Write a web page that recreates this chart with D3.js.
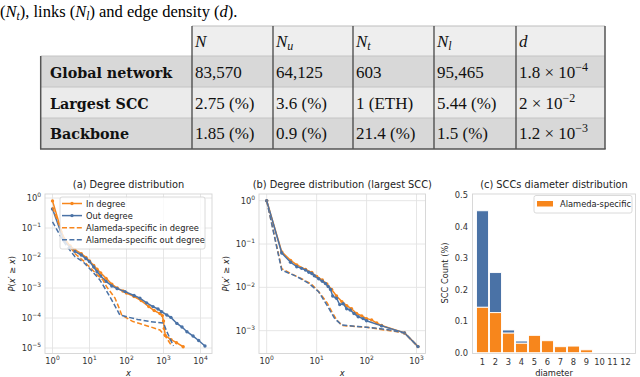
<!DOCTYPE html>
<html lang="en">
<head>
<meta charset="UTF-8">
<title>Network statistics</title>
<script src="https://d3js.org/d3.v7.min.js"></script>
<style>
    body { margin: 0; background: #ffffff; }
    svg { display: block; }
</style>
</head>
<body>
<svg width="640" height="377"></svg>
<script>
// ---- table data ----
const colHeads = [["N", ""], ["N", "u"], ["N", "t"], ["N", "l"], ["d", ""]];
const rowLabels = ["Global network", "Largest SCC", "Backbone"];
const rowGlobal = ["83,570", "64,125", "603", "95,465", ["1.8 × 10", "−4"]];
const rowSCC = ["2.75 (%)", "3.6 (%)", "1 (ETH)", "5.44 (%)", ["2 × 10", "−2"]];
const rowBackbone = ["1.85 (%)", "0.9 (%)", "21.4 (%)", "1.5 (%)", ["1.2 × 10", "−3"]];

// ---- (a) degree distribution, [degree, P(x' >= x)] ----
const inDegree = [[1,0.8],[2,0.045],[3,0.025],[4,0.019],[6,0.014],[8,0.0105],[10,0.0079],[13,0.0056],[16,0.0042],[20,0.0032],[28,0.0021],[40,0.00135],[56,0.001],[80,0.00079],[100,0.00068],[160,0.00052],[250,0.00038],[400,0.00024],[560,0.000178],[800,0.000141],[930,0.00012],[1000,0.000079],[1050,0.000045],[1120,0.000026],[1600,0.000019],[2240,0.000015],[3400,0.000011]];
const outDegree = [[1,0.43],[2,0.04],[3,0.0224],[4,0.0166],[6,0.0126],[8,0.0095],[10,0.0076],[13,0.005],[16,0.0035],[20,0.0025],[28,0.00166],[40,0.00117],[56,0.00095],[91,0.00076],[160,0.00056],[230,0.00046],[350,0.00032],[520,0.00024],[710,0.0002],[890,0.000162],[1230,0.000126],[1580,0.000105],[2300,0.000066],[3160,0.00005],[4300,0.000035],[6300,0.000025],[8900,0.0000178],[13200,0.0000117]];
const alamedaIn = [[1,0.5],[2,0.05],[3,0.024],[4,0.0141],[7,0.0079],[10,0.005],[16,0.0028],[23,0.00186],[29,0.0011],[49,0.00046],[66,0.000186],[74,0.000126],[150,0.000076],[436,0.000051],[800,0.00004],[1120,0.000025],[1660,0.0000117]];
const alamedaOut = [[1,0.16],[2,0.035],[3,0.0178],[4,0.0112],[7,0.0071],[10,0.0045],[19,0.00186],[29,0.00079],[44,0.00032],[66,0.000126],[200,0.000089],[436,0.000076],[1000,0.000068],[1230,0.000035],[1860,0.0000117]];

// ---- (b) largest SCC ----
const sccIn = [[1,1],[2,0.066],[3,0.042],[4,0.033],[6,0.026],[8,0.022],[10,0.0178],[13,0.0148],[16,0.012],[20,0.0089],[25,0.0063],[32,0.0047],[40,0.0038],[50,0.0032],[63,0.0025],[80,0.0022],[100,0.0019],[126,0.00178],[160,0.0015],[200,0.00132],[575,0.00089],[1070,0.00043]];
const sccOut = [[1,1],[2,0.062],[3,0.038],[4,0.03],[5,0.0275],[6,0.025],[7,0.0224],[8,0.0209],[9,0.0185],[11,0.0158],[13,0.0138],[15,0.0123],[17,0.0105],[19,0.0089],[21,0.0063],[25,0.0056],[29,0.004],[34,0.0042],[40,0.0032],[47,0.003],[56,0.0025],[68,0.0021],[85,0.0019],[100,0.0017],[200,0.00129],[575,0.00089],[1070,0.00043]];
const sccAlamedaIn = [[1,1],[2,0.027],[3,0.021],[5,0.0158],[8,0.0117],[11,0.0079],[16,0.0045],[20,0.0028],[25,0.0018],[32,0.00132],[100,0.0012],[575,0.00089],[1070,0.00043]];
const sccAlamedaOut = [[1,1],[2,0.025],[4,0.0178],[7,0.0123],[11,0.0079],[17,0.0035],[23,0.0019],[32,0.00135],[100,0.0012],[250,0.00107],[575,0.00089],[1070,0.00043]];

// ---- (c) SCC diameter ----
const diameters = [1,2,3,4,5,6,7,8,9,10,11,12];
const sccAll = [0.45,0.254,0.072,0.037,0.055,0.038,0.019,0.021,0.009,0,0,0];
const sccAlameda = [0.144,0.127,0.062,0.03,0.055,0.038,0.019,0.021,0.009,0,0,0];

const ORANGE = "#f7861c", BLUE = "#4a72a6";
const SANS = "DejaVu Sans, sans-serif", SERIF = "Liberation Serif, serif";
const svg = d3.select("svg");

// ================= table =================
const colX = [40.7, 192, 273, 353, 434, 516, 605];
const rowY = [26, 56, 87, 118, 149];
const rowFill = ["#eeeeee", "#d8d8d8", "#ebebeb", "#d8d8d8"];

svg.append("text").attr("x", 0).attr("y", 17).attr("font-family", SERIF).attr("font-size", 16.5)
    .call(t => {
        t.append("tspan").text("(");
        t.append("tspan").attr("font-style", "italic").text("N");
        t.append("tspan").attr("font-style", "italic").attr("font-size", 11.5).attr("dy", 3).text("t");
        t.append("tspan").attr("dy", -3).text("), links (");
        t.append("tspan").attr("font-style", "italic").text("N");
        t.append("tspan").attr("font-style", "italic").attr("font-size", 11.5).attr("dy", 3).text("l");
        t.append("tspan").attr("dy", -3).text(") and edge density (");
        t.append("tspan").attr("font-style", "italic").text("d");
        t.append("tspan").text(").");
    });

const tbl = svg.append("g");
// header cells (no label cell)
tbl.append("rect").attr("x", colX[1]).attr("y", rowY[0]).attr("width", colX[6] - colX[1]).attr("height", rowY[1] - rowY[0]).attr("fill", rowFill[0]);
for (let r = 1; r < 4; r++) {
    tbl.append("rect").attr("x", colX[0]).attr("y", rowY[r]).attr("width", colX[6] - colX[0]).attr("height", rowY[r + 1] - rowY[r]).attr("fill", rowFill[r]);
}
// light horizontal rules
tbl.append("line").attr("x1", colX[1]).attr("x2", colX[6]).attr("y1", rowY[0]).attr("y2", rowY[0]).attr("stroke", "#bdbdbd").attr("stroke-width", 1);
[1, 2, 3].forEach(r => tbl.append("line").attr("x1", colX[0]).attr("x2", colX[6]).attr("y1", rowY[r]).attr("y2", rowY[r]).attr("stroke", "#c4c4c4").attr("stroke-width", 1));
// dark verticals
[1, 2, 3, 4, 5].forEach(c => tbl.append("line").attr("x1", colX[c]).attr("x2", colX[c]).attr("y1", rowY[0]).attr("y2", rowY[4]).attr("stroke", "#3a3a3a").attr("stroke-width", 1.2));
tbl.append("line").attr("x1", colX[0]).attr("x2", colX[0]).attr("y1", rowY[1]).attr("y2", rowY[4]).attr("stroke", "#555").attr("stroke-width", 1.5);
tbl.append("line").attr("x1", colX[6]).attr("x2", colX[6]).attr("y1", rowY[0]).attr("y2", rowY[4]).attr("stroke", "#555").attr("stroke-width", 1.5);
tbl.append("line").attr("x1", colX[0] - 0.7).attr("x2", colX[6] + 0.7).attr("y1", rowY[4]).attr("y2", rowY[4]).attr("stroke", "#555").attr("stroke-width", 1.5);

// header labels
colHeads.forEach((h, i) => {
    const t = tbl.append("text").attr("x", colX[i + 1] + 3).attr("y", 47).attr("font-family", SERIF).attr("font-size", 17).attr("fill", "#111");
    t.append("tspan").attr("font-style", "italic").text(h[0]);
    if (h[1]) t.append("tspan").attr("font-style", "italic").attr("font-size", 12).attr("dy", 3).text(h[1]);
});
const baseY = [78, 109, 139];
[rowGlobal, rowSCC, rowBackbone].forEach((row, r) => {
    tbl.append("text").attr("x", 50).attr("y", baseY[r]).attr("font-family", "DejaVu Serif, serif").attr("font-size", 14.3)
        .attr("font-weight", "bold").attr("fill", "#111").text(rowLabels[r]);
    row.forEach((v, c) => {
        const t = tbl.append("text").attr("x", colX[c + 1] + 3).attr("y", baseY[r]).attr("font-family", SERIF).attr("font-size", 17).attr("fill", "#111");
        if (Array.isArray(v)) {
            t.append("tspan").text(v[0]);
            t.append("tspan").attr("font-size", 12).attr("dy", -7).text(v[1]);
        } else {
            t.text(v);
        }
    });
});

// ================= helpers =================
function powLabel(t, e, fs) {
    t.append("tspan").text("10");
    t.append("tspan").attr("dy", -fs * 0.45).attr("font-size", fs * 0.72).text(e < 0 ? "−" + (-e) : String(e));
}

function mathLabelP(t) {
    t.append("tspan").attr("font-style", "italic").text("P");
    t.append("tspan").text("(");
    t.append("tspan").attr("font-style", "italic").text("x");
    t.append("tspan").text("′ ≥ ");
    t.append("tspan").attr("font-style", "italic").text("x");
    t.append("tspan").text(")");
}

function logPanel(o) {
    const g = svg.append("g");
    const x = d3.scaleLog().domain(o.xd).range(o.xr);
    const y = d3.scaleLog().domain(o.yd).range(o.yr);
    const [x0, y0, x1, y1] = o.box;
    const fs = 8.3;

    o.xExp.forEach(e => {
        const px = x(Math.pow(10, e));
        g.append("line").attr("x1", px).attr("x2", px).attr("y1", y0).attr("y2", y1).attr("stroke", "#e3e3e3").attr("stroke-width", 0.9);
        const t = g.append("text").attr("x", px).attr("y", y1 + 10.5).attr("text-anchor", "middle")
            .attr("font-family", SANS).attr("font-size", fs).attr("fill", "#333");
        powLabel(t, e, fs);
    });
    o.yExp.forEach(e => {
        const py = y(Math.pow(10, e));
        g.append("line").attr("x1", x0).attr("x2", x1).attr("y1", py).attr("y2", py).attr("stroke", "#e3e3e3").attr("stroke-width", 0.9);
        const t = g.append("text").attr("x", x0 - 4).attr("y", py + 3).attr("text-anchor", "end")
            .attr("font-family", SANS).attr("font-size", fs).attr("fill", "#333");
        powLabel(t, e, fs);
    });
    g.append("rect").attr("x", x0).attr("y", y0).attr("width", x1 - x0).attr("height", y1 - y0)
        .attr("fill", "none").attr("stroke", "#d4d4d4").attr("stroke-width", 0.9);

    const line = d3.line().x(d => x(d[0])).y(d => y(d[1]));
    o.series.forEach(s => {
        g.append("path").datum(s.data).attr("d", line).attr("fill", "none").attr("stroke", s.color)
            .attr("stroke-width", 1.5).attr("stroke-dasharray", s.dash ? "5,2.4" : null);
        if (!s.dash) {
            g.append("g").selectAll("circle").data(s.data).join("circle")
                .attr("cx", d => x(d[0])).attr("cy", d => y(d[1])).attr("r", 1.7).attr("fill", s.color);
        }
    });

    g.append("text").attr("x", (x0 + x1) / 2).attr("y", 188).attr("text-anchor", "middle")
        .attr("font-family", SANS).attr("font-size", 9.8).attr("fill", "#222").text(o.title);
    g.append("text").attr("x", (x0 + x1) / 2).attr("y", 375.5).attr("text-anchor", "middle")
        .attr("font-family", SANS).attr("font-size", fs).attr("font-style", "italic").attr("fill", "#222").text("x");
    g.append("text").attr("transform", `translate(${o.ylabX},${(y0 + y1) / 2}) rotate(-90)`).attr("text-anchor", "middle")
        .attr("font-family", SANS).attr("font-size", fs).attr("fill", "#222").call(mathLabelP);
    return g;
}

// ================= (a) =================
const seriesA = [
    { name: "In degree", data: inDegree, color: ORANGE, dash: false },
    { name: "Out degree", data: outDegree, color: BLUE, dash: false },
    { name: "Alameda-specific in degree", data: alamedaIn, color: ORANGE, dash: true },
    { name: "Alameda-specific out degree", data: alamedaOut, color: BLUE, dash: true }
];
const gA = logPanel({
    xd: [1, 1e4], xr: [52.5, 200.5], yd: [1, 1e-5], yr: [198, 348],
    box: [45, 194, 212, 353.5], xExp: [0, 1, 2, 3, 4], yExp: [0, -1, -2, -3, -4, -5],
    series: seriesA, title: "(a) Degree distribution", ylabX: 15
});
// legend (a)
const legA = gA.append("g");
legA.append("rect").attr("x", 60).attr("y", 197).attr("width", 145).attr("height", 52).attr("rx", 2)
    .attr("fill", "#fff").attr("fill-opacity", 0.8).attr("stroke", "#d0d0d0").attr("stroke-width", 0.8);
seriesA.forEach((s, i) => {
    const ly = 203.5 + i * 12.1;
    legA.append("line").attr("x1", 62).attr("x2", 82).attr("y1", ly).attr("y2", ly).attr("stroke", s.color)
        .attr("stroke-width", 1.5).attr("stroke-dasharray", s.dash ? "5,2.4" : null);
    if (!s.dash) legA.append("circle").attr("cx", 72).attr("cy", ly).attr("r", 1.7).attr("fill", s.color);
    legA.append("text").attr("x", 86).attr("y", ly + 3).attr("font-family", SANS).attr("font-size", 8.3)
        .attr("fill", "#222").text(s.name);
});

// ================= (b) =================
logPanel({
    xd: [1, 1000], xr: [266.7, 416.5], yd: [1, 1e-3], yr: [200.7, 330.7],
    box: [259, 194, 425.5, 353.5], xExp: [0, 1, 2, 3], yExp: [0, -1, -2, -3],
    series: [
        { data: sccIn, color: ORANGE, dash: false },
        { data: sccOut, color: BLUE, dash: false },
        { data: sccAlamedaIn, color: ORANGE, dash: true },
        { data: sccAlamedaOut, color: BLUE, dash: true }
    ],
    title: "(b) Degree distribution (largest SCC)", ylabX: 229
});

// ================= (c) =================
const gC = svg.append("g");
const xc = d3.scaleLinear().domain([1, 12]).range([482.5, 625.5]);
const yc = d3.scaleLinear().domain([0, 0.5]).range([352.7, 195]);
const bw = 12;
gC.append("rect").attr("x", 472.5).attr("y", 194).attr("width", 163).attr("height", 159.5)
    .attr("fill", "none").attr("stroke", "#d4d4d4").attr("stroke-width", 0.9);
gC.append("g").selectAll("rect").data(diameters).join("rect")
    .attr("x", (d) => xc(d) - bw / 2).attr("width", bw)
    .attr("y", (d, i) => yc(sccAll[i])).attr("height", (d, i) => yc(sccAlameda[i]) - yc(sccAll[i]))
    .attr("fill", BLUE).attr("stroke", "#fff").attr("stroke-width", 0.9);
gC.append("g").selectAll("rect").data(diameters).join("rect")
    .attr("x", (d) => xc(d) - bw / 2).attr("width", bw)
    .attr("y", (d, i) => yc(sccAlameda[i])).attr("height", (d, i) => yc(0) - yc(sccAlameda[i]))
    .attr("fill", ORANGE).attr("stroke", "#fff").attr("stroke-width", 0.9);
yc.ticks(5).forEach(v => {
    gC.append("text").attr("x", 468).attr("y", yc(v) + 3).attr("text-anchor", "end")
        .attr("font-family", SANS).attr("font-size", 8.3).attr("fill", "#333").text(d3.format(".1f")(v));
});
diameters.forEach(d => {
    gC.append("text").attr("x", xc(d)).attr("y", 365).attr("text-anchor", "middle")
        .attr("font-family", SANS).attr("font-size", 8.3).attr("fill", "#333").text(d);
});
gC.append("text").attr("x", 554).attr("y", 188).attr("text-anchor", "middle")
    .attr("font-family", SANS).attr("font-size", 9.8).attr("fill", "#222").text("(c) SCCs diameter distribution");
gC.append("text").attr("x", 554).attr("y", 375.5).attr("text-anchor", "middle")
    .attr("font-family", SANS).attr("font-size", 8.3).attr("fill", "#222").text("diameter");
gC.append("text").attr("transform", "translate(448,273) rotate(-90)").attr("text-anchor", "middle")
    .attr("font-family", SANS).attr("font-size", 8.3).attr("fill", "#222").text("SCC Count (%)");
// legend (c)
gC.append("rect").attr("x", 534).attr("y", 195.5).attr("width", 98).attr("height", 17.5).attr("rx", 2)
    .attr("fill", "#fff").attr("fill-opacity", 0.8).attr("stroke", "#d0d0d0").attr("stroke-width", 0.8);
gC.append("rect").attr("x", 537).attr("y", 201).attr("width", 16).attr("height", 5.5).attr("fill", ORANGE);
gC.append("text").attr("x", 560).attr("y", 207).attr("font-family", SANS).attr("font-size", 8.3)
    .attr("fill", "#222").text("Alameda-specific");
</script>
</body>
</html>
